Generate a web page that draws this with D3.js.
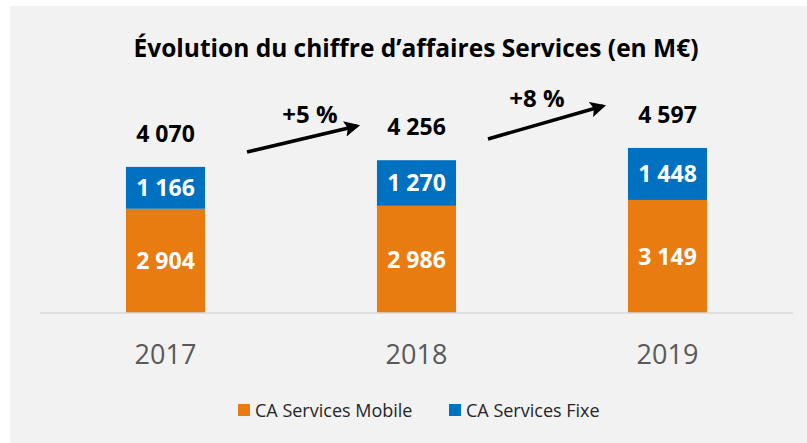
<html>
<head>
<meta charset="utf-8">
<script src="https://d3js.org/d3.v7.min.js"></script>
<style>
  body { margin: 0; background: #fff; }
  text { font-family: "Open Sans", sans-serif; }
</style>
</head>
<body>
<svg width="807" height="443"></svg>
<script>
// data
var years = ["2017", "2018", "2019"];
var mobile = [2904, 2986, 3149];
var fixe = [1166, 1270, 1448];
var totals = [4070, 4256, 4597];
var growth = ["+5 %", "+8 %"];
var seriesNames = ["CA Services Mobile", "CA Services Fixe"];
var colors = ["#E97C11", "#0070C0"];

var svg = d3.select("svg");

// grey chart area
svg.append("rect")
  .attr("x", 10).attr("y", 6)
  .attr("width", 797).attr("height", 437)
  .attr("fill", "#f2f2f2");

var x = d3.scaleBand()
  .domain(years)
  .range([40, 793])
  .paddingInner(0.685)
  .paddingOuter(0.3425);

var y = d3.scaleLinear()
  .domain([0, 5000])
  .range([313, 133.5]);

var fmt = function(v) { return d3.format(",")(v).replace(/,/g, " "); };

// title
svg.append("text")
  .attr("x", 416).attr("y", 57)
  .attr("text-anchor", "middle")
  .style("font-size", "24.5px")
  .style("font-weight", "bold")
  .attr("fill", "#000")
  .text("Évolution du chiffre d’affaires Services (en M€)");

// stacked bars
var rows = years.map(function(yr, i) { return { year: yr, mobile: mobile[i], fixe: fixe[i] }; });
var stack = d3.stack().keys(["mobile", "fixe"])(rows);

var layer = svg.append("g").selectAll("g")
  .data(stack)
  .enter().append("g")
  .attr("fill", function(d, i) { return colors[i]; });

layer.selectAll("rect")
  .data(function(d) { return d; })
  .enter().append("rect")
  .attr("x", function(d) { return x(d.data.year); })
  .attr("y", function(d) { return y(d[1]); })
  .attr("width", x.bandwidth())
  .attr("height", function(d) { return y(d[0]) - y(d[1]); });

layer.selectAll("text")
  .data(function(d) { return d; })
  .enter().append("text")
  .attr("x", function(d) { return x(d.data.year) + x.bandwidth() / 2; })
  .attr("y", function(d) { return (y(d[0]) + y(d[1])) / 2; })
  .attr("dy", "0.36em")
  .attr("text-anchor", "middle")
  .style("font-size", "23px")
  .style("font-weight", "bold")
  .attr("fill", "#fff")
  .text(function(d) { return fmt(d[1] - d[0]); });

// totals above bars
svg.append("g").selectAll("text")
  .data(totals)
  .enter().append("text")
  .attr("x", function(d, i) { return x(years[i]) + x.bandwidth() / 2; })
  .attr("y", function(d) { return y(d) - 25; })
  .attr("text-anchor", "middle")
  .style("font-size", "23px")
  .style("font-weight", "bold")
  .attr("fill", "#000")
  .text(fmt);

// axis line + year labels
svg.append("line")
  .attr("x1", 40).attr("x2", 793)
  .attr("y1", 313).attr("y2", 313)
  .attr("stroke", "#d9d9d9")
  .attr("stroke-width", 1.5);

svg.append("g").selectAll("text")
  .data(years)
  .enter().append("text")
  .attr("x", function(d) { return x(d) + x.bandwidth() / 2; })
  .attr("y", 364)
  .attr("text-anchor", "middle")
  .style("font-size", "27px")
  .attr("fill", "#595959")
  .text(function(d) { return d; });

// growth arrows
svg.append("defs").append("marker")
  .attr("id", "head")
  .attr("viewBox", "0 0 10 10")
  .attr("refX", 8).attr("refY", 5)
  .attr("markerWidth", 4.5).attr("markerHeight", 4.5)
  .attr("orient", "auto")
  .append("path")
  .attr("d", "M0,0 L10,5 L0,10 L2,5 z")
  .attr("fill", "#000");

var arrows = [
  { x1: 247, y1: 152, x2: 357, y2: 126, lx: 310, ly: 123 },
  { x1: 488, y1: 139, x2: 603, y2: 106, lx: 537, ly: 107 }
];

svg.append("g").selectAll("line")
  .data(arrows)
  .enter().append("line")
  .attr("x1", function(d) { return d.x1; })
  .attr("y1", function(d) { return d.y1; })
  .attr("x2", function(d) { return d.x2; })
  .attr("y2", function(d) { return d.y2; })
  .attr("stroke", "#000")
  .attr("stroke-width", 3.5)
  .attr("marker-end", "url(#head)");

svg.append("g").selectAll("text")
  .data(arrows)
  .enter().append("text")
  .attr("x", function(d) { return d.lx; })
  .attr("y", function(d) { return d.ly; })
  .attr("text-anchor", "middle")
  .style("font-size", "24px")
  .style("font-weight", "bold")
  .attr("fill", "#000")
  .text(function(d, i) { return growth[i]; });

// legend
var legendX = [238, 449];
var leg = svg.append("g").selectAll("g")
  .data(seriesNames)
  .enter().append("g")
  .attr("transform", function(d, i) { return "translate(" + legendX[i] + ",404)"; });

leg.append("rect")
  .attr("width", 12).attr("height", 12)
  .attr("fill", function(d, i) { return colors[i]; });

leg.append("text")
  .attr("x", 17).attr("y", 12.5)
  .style("font-size", "18px")
  .attr("fill", "#262626")
  .text(function(d) { return d; });
</script>
</body>
</html>
